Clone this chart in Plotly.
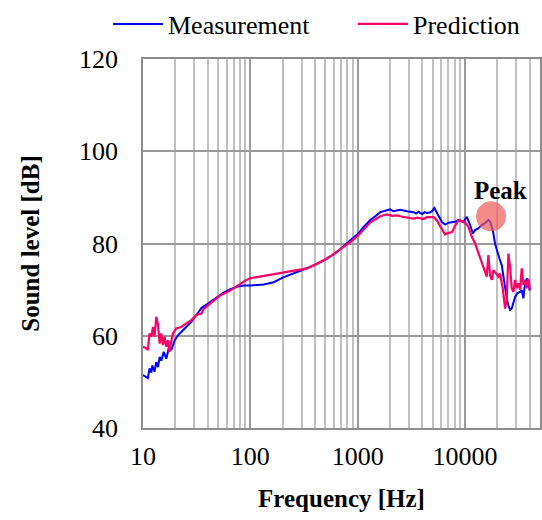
import plotly.graph_objects as go
import math

# Measurement (blue)
meas_f = [10, 10.7, 11.1, 11.5, 11.96, 12.2, 12.8, 13.3, 13.8, 14.3, 14.8, 15.6, 16.5, 17.5, 18.4, 19.7,
          21.2, 22.7, 25.3, 28.2, 31.4, 35, 39.4, 44, 48.9, 56, 65, 75, 86.7, 101, 133, 165, 205, 272,
          362, 482, 641, 855, 1007, 1137, 1313, 1480, 1626, 1876, 2000, 2150, 2323, 2500, 2881, 3000,
          3323, 3500, 3700, 3835, 4000, 4200, 4426, 4700, 4930, 5180, 5480, 6110, 6560, 7000, 7570,
          8130, 8730, 9300, 9720, 10000, 10400, 11170, 11830, 12420, 13340, 14350, 15390, 16520,
          17140, 17780, 18400, 19050, 19750, 20900, 22010, 22800, 23650, 24480, 25370, 26300, 27270,
          28270, 29300, 30800, 32600, 33800, 35060, 35800, 37650, 39000, 40000]
meas_db = [51.5, 51.1, 50.8, 52.9, 52.0, 53.6, 52.2, 54.3, 53.2, 55.4, 54.6, 56.5, 55.0, 57.6, 56.9, 59.0,
           60.1, 60.8, 61.9, 63.0, 64.5, 66.0, 66.8, 67.6, 68.3, 69.3, 70.1, 70.6, 70.9, 70.9, 71.1, 71.6,
           72.7, 73.8, 74.9, 76.3, 78.1, 80.7, 82.1, 83.6, 85.1, 86.0, 86.8, 87.2, 87.4, 87.0, 87.2, 87.3,
           87.0, 86.9, 86.8, 86.5, 86.9, 86.6, 86.4, 86.8, 86.6, 86.7, 87.0, 87.7, 86.6, 84.6, 84.1, 84.5,
           84.6, 84.7, 85.1, 84.8, 84.6, 85.2, 85.8, 84.0, 82.2, 82.9, 83.3, 84.0, 84.4, 85.1, 84.7, 83.6,
           82.2, 80.0, 78.6, 76.8, 75.3, 72.8, 70.6, 68.1, 66.6, 65.6, 65.9, 67.4, 68.4, 69.2, 69.5, 69.9,
           68.1, 70.3, 72.4, 71.7, 69.8]

# Prediction (red)
pred_f = [10, 10.7, 11.1, 11.5, 11.96, 12.4, 12.8, 13.3, 13.8, 14.3, 14.8, 15.35, 15.9, 16.5, 17.1, 17.7,
          18.4, 19.0, 20.4, 22.7, 25.3, 28.2, 31.4, 35, 37, 40, 45, 52, 64.7, 80, 92, 101, 132, 190, 270,
          337, 418, 556, 690, 855, 1007, 1137, 1313, 1626, 1876, 2100, 2323, 2600, 2881, 3323, 3600,
          3835, 4100, 4426, 5108, 5480, 6110, 6500, 7050, 7570, 8130, 8730, 9300, 10000, 10770, 11560,
          12420, 13340, 14350, 15390, 15950, 16520, 17140, 17780, 18400, 19500, 20460, 21200, 22470,
          23650, 24480, 25370, 26300, 27270, 28270, 29300, 30360, 31480, 32600, 33800, 35060, 36300,
          37650, 39000, 40450]
pred_db = [57.6, 57.3, 56.9, 60.5, 59.8, 61.9, 59.8, 64.1, 62.3, 58.3, 60.5, 58.0, 59.8, 57.6, 59.0, 56.5,
           59.0, 60.5, 61.6, 61.9, 62.7, 63.4, 64.5, 64.8, 65.9, 66.5, 67.6, 68.7, 69.8, 71.2, 72.1, 72.5,
           73.0, 73.6, 74.3, 74.6, 75.6, 77.2, 78.8, 80.3, 81.7, 83.0, 84.6, 85.9, 86.3, 86.0, 86.1, 85.8,
           85.7, 85.4, 85.6, 85.4, 85.3, 85.7, 85.7, 85.0, 83.2, 82.0, 82.3, 82.5, 83.9, 85.0, 84.9, 84.6,
           83.6, 81.5, 80.0, 77.8, 76.0, 73.9, 72.8, 77.5, 73.1, 72.1, 74.2, 73.5, 72.8, 73.5, 70.3, 65.9,
           67.7, 77.8, 74.9, 70.3, 69.5, 72.1, 70.3, 71.4, 70.0, 74.6, 71.0, 72.1, 70.3, 72.4, 69.9]

peak_f = [17500]
peak_db = [85.9]
peak_label = "Peak"

FONT = "Liberation Serif, Times New Roman, serif"
FS = 25
TFS = 26

fig = go.Figure()
fig.add_trace(go.Scatter(x=meas_f, y=meas_db, mode="lines", name="Measurement", legend="legend",
                         line=dict(color="#0000FF", width=2)))
fig.add_trace(go.Scatter(x=pred_f, y=pred_db, mode="lines", name="Prediction", legend="legend2",
                         line=dict(color="#FF0066", width=2.2)))
fig.add_trace(go.Scatter(x=peak_f, y=peak_db, mode="markers", showlegend=False,
                         marker=dict(size=30, color="rgba(240,90,90,0.7)", line=dict(width=0))))
fig.add_annotation(x=math.log10(21300), y=91.5, text="<b>" + peak_label + "</b>", showarrow=False,
                   font=dict(family=FONT, size=FS, color="black"))

leg_common = dict(orientation="h", xref="container", yref="container", xanchor="left",
                  y=1 - 24 / 520, yanchor="middle", font=dict(family=FONT, size=TFS),
                  bgcolor="rgba(0,0,0,0)", itemwidth=50)

fig.update_layout(
    width=542, height=520,
    margin=dict(l=143, r=2, t=59, b=92, autoexpand=False),
    paper_bgcolor="white", plot_bgcolor="white",
    font=dict(family=FONT, size=FS, color="black"),
    showlegend=True,
    legend=dict(x=108 / 542, **leg_common),
    legend2=dict(x=353 / 542, **leg_common),
)
fig.update_xaxes(
    type="log", range=[1, math.log10(50000)],
    tickvals=[10, 100, 1000, 10000], ticktext=["10", "100", "1000", "10000"],
    tickfont=dict(family=FONT, size=TFS),
    showline=True, mirror=True, linecolor="#8c8c8c", linewidth=1.5,
    showgrid=True, gridcolor="#999999", gridwidth=1.5,
    minor=dict(dtick="D1", showgrid=True, gridcolor="#c0c0c0", gridwidth=1.5),
    ticks="", ticklabelstandoff=4, zeroline=False,
    title=dict(text="<b>Frequency [Hz]</b>", font=dict(family=FONT, size=FS), standoff=20),
)
fig.update_yaxes(
    range=[40, 120], dtick=20,
    tickfont=dict(family=FONT, size=TFS),
    showline=True, mirror=True, linecolor="#8c8c8c", linewidth=1.5,
    showgrid=True, gridcolor="#999999", gridwidth=1.5,
    ticks="", ticklabelstandoff=18, zeroline=False,
    title=dict(text="<b>Sound level [dB]</b>", font=dict(family=FONT, size=FS), standoff=32),
)
fig.write_html("out.html")
